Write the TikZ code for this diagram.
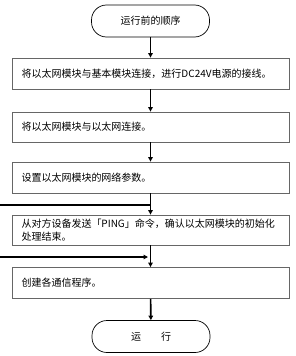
\documentclass[tikz,border=0pt]{standalone}
\usepackage{fontspec}
\setmainfont{Noto Sans CJK SC}
\usetikzlibrary{arrows.meta, positioning, calc}

\begin{document}
\begin{tikzpicture}[
    x=1pt, y=-1pt,
    box/.style={draw=black!60, line width=0.8pt, minimum width=277pt, minimum height=31pt, text width=258pt, inner xsep=9.5pt, align=left, font=\fontsize{10}{13.5}\selectfont},
    term/.style={draw, line width=0.7pt, rounded corners=15pt, minimum width=118pt, minimum height=32pt, align=center, font=\fontsize{10}{13.5}\selectfont},
    flow/.style={line width=1.6pt, -{Triangle[length=4.5pt, width=4.5pt]}},
    >=Triangle
]
  \useasboundingbox (0, 0) rectangle (295, 356);

  \node[term] (start) at (150.5, 21) {运行前的顺序};
  \node[box] (s1) at (150.5, 73.5) {将以太网模块与基本模块连接，进行DC24V电源的接线。};
  \node[box, minimum height=30pt] (s2) at (150.5, 127) {将以太网模块与以太网连接。};
  \node[box] (s3) at (150.5, 177.5) {设置以太网模块的网络参数。};
  \node[box, minimum height=30pt] (s4) at (150.5, 230) {从对方设备发送「PING」命令，确认以太网模块的初始化\\处理结束。};
  \node[box] (s5) at (150.5, 283) {创建各通信程序。};
  \node[term] (stop) at (151, 336.5) {运　　行};

  % free ends of the side lines
  \coordinate (out1) at (0, 205);
  \coordinate (in1) at (0, 257);

  \draw[flow] (start) -- (s1);
  \draw[flow] (s1) -- (s2);
  \draw[flow] (s2) -- (s3);
  \draw[flow] (s3) -- (s4);
  \draw[flow] (s4) -- (s5);
  \draw[flow] (s5) -- (stop);

  \draw[line width=1.6pt] (out1) -- (out1 -| s3.south);
  \draw[flow] (in1) -- ($(in1 -| s4.south) + (-2.5, 0)$);
\end{tikzpicture}
\end{document}
